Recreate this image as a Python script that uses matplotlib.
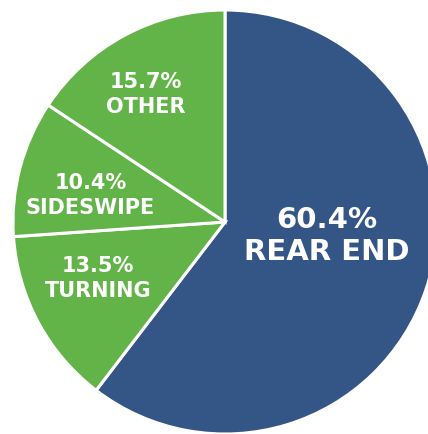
import numpy as np
import matplotlib
matplotlib.use('Agg')
import matplotlib.pyplot as plt

labels = ['REAR END', 'TURNING', 'SIDESWIPE', 'OTHER']
shares = [60.4, 13.5, 10.4, 15.7]
colors = ['#335687', '#62B348', '#62B348', '#62B348']

W, H = 428, 434
fig = plt.figure(figsize=(W / 100, H / 100), dpi=100)
ax = fig.add_axes([0, 0, 1, 1])
ax.set_xlim(0, W)
ax.set_ylim(0, H)
ax.set_aspect('equal')
ax.axis('off')

cx, cy, r = 225, H - 222, 212
wedges, _ = ax.pie(shares, colors=colors, startangle=90, counterclock=False,
                   center=(cx, cy), radius=r, frame=True,
                   wedgeprops=dict(edgecolor='white', linewidth=2.2))
ax.set_xlim(0, W)
ax.set_ylim(0, H)
ax.axis('off')

# label placement: (angle deg, distance, font size)
place = [(-8, 103, 21), (-156, 139, 15), (169, 137, 15), (122, 150, 15)]
for lab, val, (ang, d, fs) in zip(labels, shares, place):
    x = cx + d * np.cos(np.radians(ang))
    y = cy + d * np.sin(np.radians(ang))
    gap = 16 if fs > 18 else 12.5
    ax.text(x, y + gap, f'{val}%', ha='center', va='center', color='white',
            fontsize=fs, fontweight='bold')
    ax.text(x, y - gap, lab, ha='center', va='center', color='white',
            fontsize=fs, fontweight='bold')

fig.savefig('out.png', dpi=100)
